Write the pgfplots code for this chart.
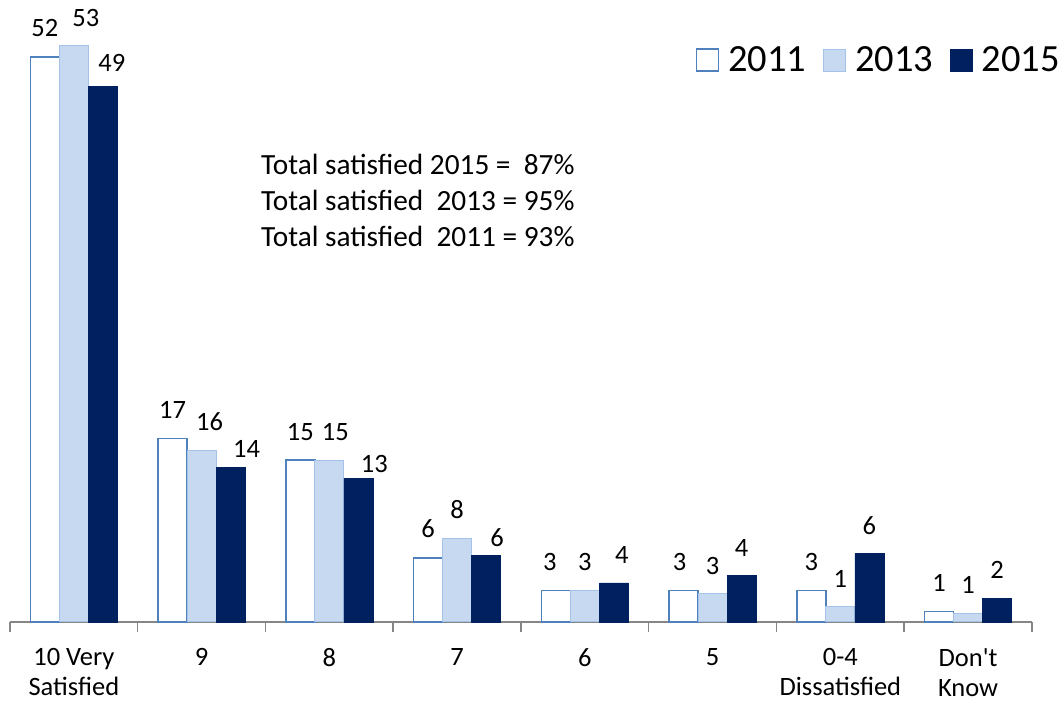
\documentclass[border=0pt]{standalone}
\usepackage{fontspec}
\setmainfont{Carlito}
\usepackage{pgfplots}
\pgfplotsset{compat=1.18}
\usepackage{pgfplotstable}
\definecolor{c11}{RGB}{79,129,189}
\definecolor{c13}{RGB}{198,217,241}
\definecolor{c13e}{RGB}{165,194,232}
\definecolor{c15}{RGB}{0,32,96}
\definecolor{axgray}{RGB}{134,134,134}
\newcommand{\sq}{{\addfontfeature{Ligatures=TeXOff}'}}

% values; dx/dy = label offsets (pt) as in the reference
\pgfplotstableread{
x y11 y13 y15 dx11 dx13 dx15 dy11 dy13 dy15
0 52.0 53.0 49.3 0 12 9 0 0 -5
1 16.9 15.8 14.2 0 8 16 0 0 -9
2 14.9 14.9 13.2 0 6 16 0 0 -13
3 5.9 7.7 6.1 0 0 11 0 0 -10
4 2.9 2.9 3.6 -6 0 8 0 0 0
5 2.9 2.6 4.3 -4 0 0 0 0 0
6 2.9 1.4 6.3 0 0 0 0 0 0
7 0.95 0.8 2.2 0 0 0 0 0 0
}\data

\begin{document}
\begin{tikzpicture}
\path[use as bounding box] (-10pt,-79pt) rectangle (1050pt,622pt);
\begin{axis}[
 scale only axis, width=1022pt, height=597.85pt,
 xmin=-0.5, xmax=7.5, ymin=0, ymax=55,
 clip=false,
 ybar=0pt, bar width=29pt,
 axis x line=bottom, axis y line=none,
 x axis line style={-, draw=axgray, line width=1.5pt},
 xtick={0,...,7},
 xticklabels={{10 Very\\Satisfied},9,8,7,6,5,{0-4\\Dissatisfied},{Don\sq t\\Know}},
 major tick length=0pt,
 minor xtick={-0.5,0.5,1.5,2.5,3.5,4.5,5.5,6.5,7.5},
 minor x tick style={draw=axgray, line width=1.5pt},
 minor tick length=10pt,
 tick align=outside,
 xticklabel style={font=\fontsize{26.5}{30}\selectfont, align=center, yshift=-23pt},
 /pgf/number format/assume math mode=true,
 point meta=y,
 nodes near coords={\pgfmathprintnumber[fixed,precision=0]{\pgfplotspointmeta}},
 every node near coord/.append style={font=\fontsize{26.5}{30}\selectfont, text=black, anchor=south, inner sep=0pt, yshift=19pt, xshift=\dx pt, yshift=\dy pt},
 legend columns=-1,
 legend style={at={(1.0303,0.94)}, anchor=east, draw=none, fill=none,
   font=\fontsize{38.5}{44}\selectfont,
   /tikz/every even column/.append style={column sep=17pt},
   /tikz/every odd column/.append style={column sep=9pt},
   nodes={inner sep=0pt}},
 legend image code/.code={\draw[#1] (0pt,-11pt) rectangle (22pt,11pt);},
]
\addplot[fill=white, draw=c11, line width=1.5pt,
  visualization depends on={\thisrow{dx11} \as \dx},
  visualization depends on={\thisrow{dy11} \as \dy}] table[x=x,y=y11]{\data};
\addplot[fill=c13, draw=c13e, line width=1pt,
  visualization depends on={\thisrow{dx13} \as \dx},
  visualization depends on={\thisrow{dy13} \as \dy}] table[x=x,y=y13]{\data};
\addplot[fill=c15, draw=c15, line width=0.5pt,
  visualization depends on={\thisrow{dx15} \as \dx},
  visualization depends on={\thisrow{dy15} \as \dy}] table[x=x,y=y15]{\data};
\legend{2011,2013,2015}
\end{axis}
\begin{scope}[every node/.style={anchor=base west, inner sep=0pt, font=\fontsize{29.3}{34}\selectfont}]
\node at (251pt,447pt) {Total satisfied 2015 =\ \ 87\%};
\node at (251pt,411pt) {Total satisfied\ \ 2013 = 95\%};
\node at (251pt,375pt) {Total satisfied\ \ 2011 = 93\%};
\end{scope}
\end{tikzpicture}
\end{document}
